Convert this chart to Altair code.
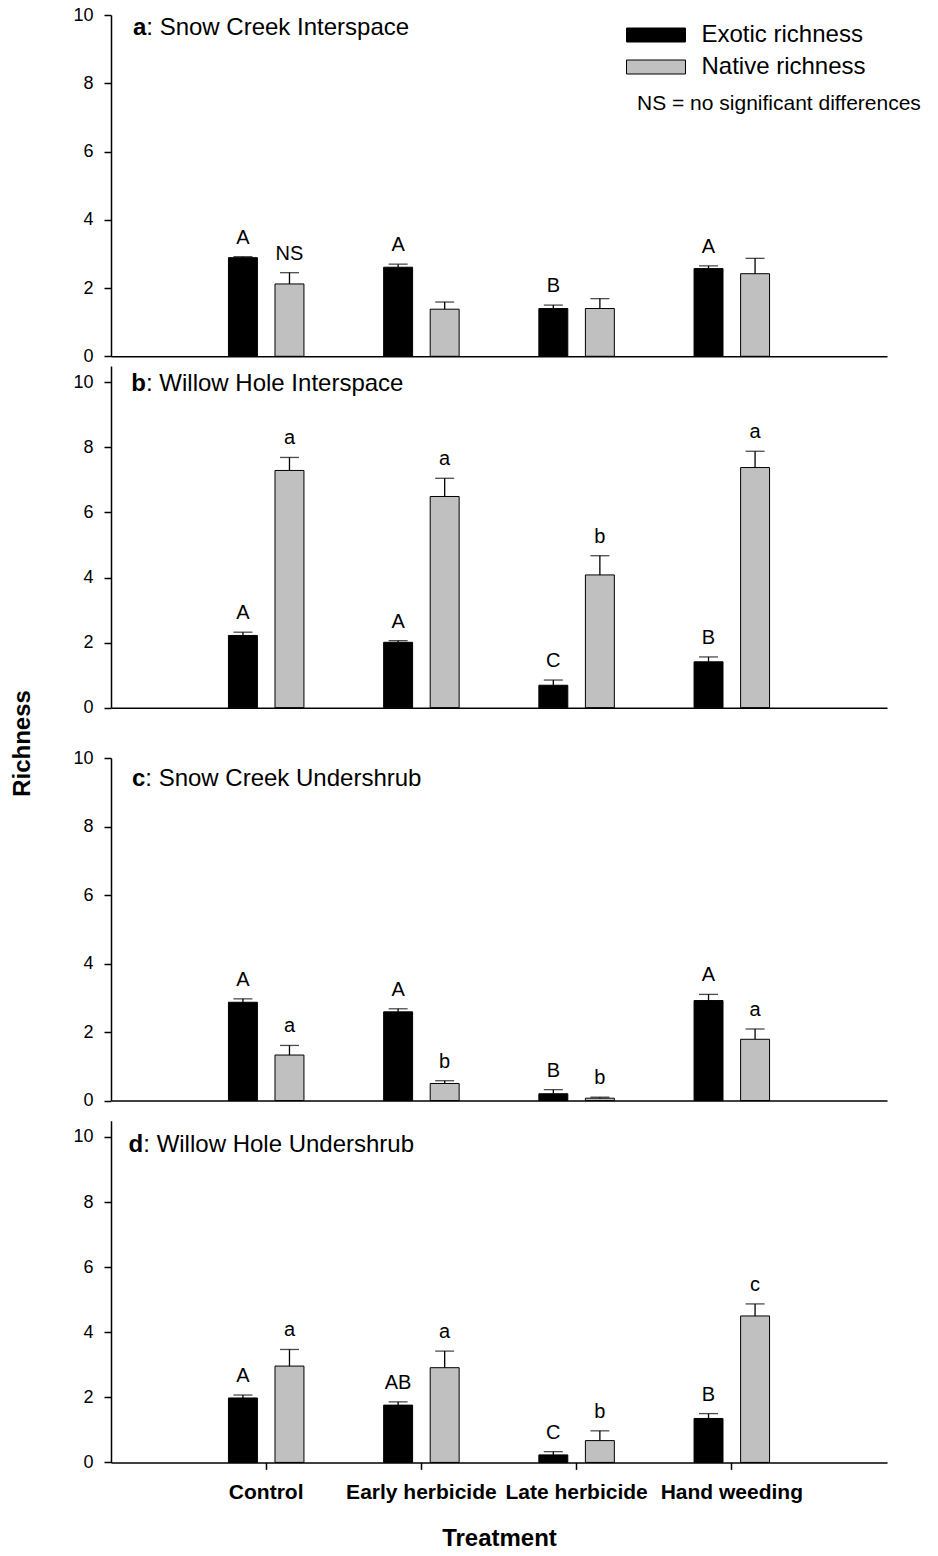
import altair as alt
import pandas as pd

FONT = "Liberation Sans"

treatments = ["Control", "Early herbicide", "Late herbicide", "Hand weeding"]
series = ["Exotic richness", "Native richness"]

# Panel a: Snow Creek Interspace
exotic_a = [2.89, 2.61, 1.40, 2.57]
exotic_a_se = [0.03, 0.09, 0.10, 0.08]
native_a = [2.12, 1.38, 1.40, 2.42]
native_a_se = [0.33, 0.21, 0.29, 0.45]
exotic_a_letters = ["A", "A", "B", "A"]
native_a_letters = ["NS", "", "", ""]

# Panel b: Willow Hole Interspace
exotic_b = [2.22, 2.01, 0.69, 1.41]
exotic_b_se = [0.10, 0.05, 0.16, 0.15]
native_b = [7.29, 6.49, 4.08, 7.38]
native_b_se = [0.40, 0.56, 0.59, 0.50]
exotic_b_letters = ["A", "A", "C", "B"]
native_b_letters = ["a", "a", "b", "a"]

# Panel c: Snow Creek Undershrub
exotic_c = [2.87, 2.59, 0.20, 2.92]
exotic_c_se = [0.10, 0.09, 0.12, 0.18]
native_c = [1.33, 0.50, 0.07, 1.79]
native_c_se = [0.28, 0.08, 0.03, 0.30]
exotic_c_letters = ["A", "A", "B", "A"]
native_c_letters = ["a", "b", "b", "a"]

# Panel d: Willow Hole Undershrub
exotic_d = [1.98, 1.76, 0.23, 1.35]
exotic_d_se = [0.09, 0.10, 0.10, 0.15]
native_d = [2.96, 2.91, 0.67, 4.50]
native_d_se = [0.51, 0.51, 0.30, 0.37]
exotic_d_letters = ["A", "AB", "C", "B"]
native_d_letters = ["a", "a", "b", "c"]

panel_letters = ["a", "b", "c", "d"]
panel_names = [": Snow Creek Interspace", ": Willow Hole Interspace",
               ": Snow Creek Undershrub", ": Willow Hole Undershrub"]

panel_data = [
    (exotic_a, exotic_a_se, native_a, native_a_se, exotic_a_letters, native_a_letters),
    (exotic_b, exotic_b_se, native_b, native_b_se, exotic_b_letters, native_b_letters),
    (exotic_c, exotic_c_se, native_c, native_c_se, exotic_c_letters, native_c_letters),
    (exotic_d, exotic_d_se, native_d, native_d_se, exotic_d_letters, native_d_letters),
]

# layout (pixels)
PLOT_W = 776
geo = [
    # height, ymax, top gap, title x, title y
    dict(h=341.3, ymax=10, gap=0, tx=22, ty=13.3),
    dict(h=350.7, ymax=10.5, gap=9, tx=20.3, ty=27),
    dict(h=392.6, ymax=10, gap=50, tx=21, ty=71.3),
    dict(h=361.4, ymax=10.5, gap=19.7, tx=17.6, ty=43.7),
]
bold_w = {"a": 13.3, "b": 14.7, "c": 13.3, "d": 14.7}


def make_df(ex, exse, nat, natse, exl, natl):
    rows = []
    for i, t in enumerate(treatments):
        rows.append(dict(treatment=t, series=series[0], mean=ex[i], top=ex[i] + exse[i], letter=exl[i]))
        rows.append(dict(treatment=t, series=series[1], mean=nat[i], top=nat[i] + natse[i], letter=natl[i]))
    return pd.DataFrame(rows)


def panel(k):
    g = geo[k]
    df = make_df(*panel_data[k])
    last = k == 3
    if last:
        xaxis = alt.Axis(title="Treatment", labelAngle=0, labelFont=FONT, labelFontSize=21,
                         labelFontWeight="bold", labelColor="black", ticks=True, tickSize=7,
                         tickColor="black", tickWidth=1.5, labelPadding=12, labelLimit=0,
                         titleFont=FONT, titleFontSize=24, titleFontWeight="bold",
                         titleColor="black", titlePadding=24, domainColor="black",
                         domainWidth=1.5, zindex=2)
    else:
        xaxis = alt.Axis(title=None, labels=False, ticks=False, domainColor="black",
                         domainWidth=1.5, zindex=2)
    xscale = alt.Scale(domain=treatments, paddingInner=0, paddingOuter=0.5)
    x = alt.X("treatment:N", sort=treatments, scale=xscale, axis=xaxis)
    xo = alt.XOffset("series:N", sort=series,
                     scale=alt.Scale(domain=series, paddingInner=0.378, paddingOuter=0.856))
    yscale = alt.Scale(domain=[0, g["ymax"]], range=[g["h"], g["gap"]], nice=False, zero=True)
    yaxis_kw = dict(values=[0, 2, 4, 6, 8, 10], format="d", tickSize=7, labelPadding=11,
                    labelFont=FONT, labelFontSize=18, labelColor="black", domainColor="black",
                    domainWidth=1.5, tickColor="black", tickWidth=1.5, grid=False, zindex=2)
    if k == 1:
        yaxis = alt.Axis(title="Richness", titleX=-88.7, titleY=386, titleAngle=270,
                         titleAlign="center", titleBaseline="middle", titleFont=FONT,
                         titleFontSize=24, titleFontWeight="bold", titleColor="black", **yaxis_kw)
    else:
        yaxis = alt.Axis(title=None, **yaxis_kw)

    if k == 0:
        legend = alt.Legend(orient="none", legendX=533, legendY=8, title=None,
                            symbolType="M-4.214,-1H4.214V1H-4.214Z", symbolSize=196,
                            symbolStrokeColor="black", symbolStrokeWidth=1, symbolOpacity=1,
                            labelFont=FONT, labelFontSize=24, labelColor="black",
                            labelOffset=33.5, labelLimit=0, rowPadding=8)
    else:
        legend = None
    color = alt.Color("series:N", sort=series,
                      scale=alt.Scale(domain=series, range=["#000000", "#c0c0c0"]),
                      legend=legend)

    base = alt.Chart(df)
    bars = base.mark_bar(stroke="black", strokeWidth=1).encode(
        x=x, xOffset=xo, y=alt.Y("mean:Q", scale=yscale, axis=yaxis), color=color)
    err = base.mark_rule(color="black", strokeWidth=1.3).encode(
        x=x, xOffset=xo, y=alt.Y("mean:Q", scale=yscale), y2="top:Q")
    cap = base.mark_tick(color="black", thickness=1.3, size=19, orient="horizontal").encode(
        x=x, xOffset=xo, y=alt.Y("top:Q", scale=yscale))
    lab = base.mark_text(font=FONT, fontSize=20, color="black", dy=-19, baseline="middle").encode(
        x=x, xOffset=xo, y=alt.Y("top:Q", scale=yscale), text="letter:N")

    letter = panel_letters[k]
    t1 = alt.Chart(pd.DataFrame({"t": [letter]})).mark_text(
        font=FONT, fontSize=24, fontWeight="bold", align="left", baseline="middle",
        color="black").encode(text="t:N", x=alt.value(g["tx"]), y=alt.value(g["ty"]))
    t2 = alt.Chart(pd.DataFrame({"t": [panel_names[k]]})).mark_text(
        font=FONT, fontSize=24, align="left", baseline="middle", color="black").encode(
        text="t:N", x=alt.value(g["tx"] + bold_w[letter]), y=alt.value(g["ty"]))
    layers = [bars, err, cap, lab, t1, t2]
    if k == 0:
        ns = alt.Chart(pd.DataFrame({"t": ["NS = no significant differences"]})).mark_text(
            font=FONT, fontSize=21, align="left", baseline="middle", color="black").encode(
            text="t:N", x=alt.value(526), y=alt.value(89))
        layers.append(ns)
    return alt.layer(*layers).properties(width=PLOT_W, height=g["h"])


chart = alt.vconcat(*[panel(k) for k in range(4)], spacing=0, bounds="flush").resolve_scale(
    x="independent", y="independent", color="independent", xOffset="independent"
).properties(
    padding={"left": 10, "top": 6, "right": 5, "bottom": 5},
    background="white"
).configure_view(stroke=None, strokeWidth=0)

chart.save("out.html", embed_options={"renderer": "svg", "actions": False})
